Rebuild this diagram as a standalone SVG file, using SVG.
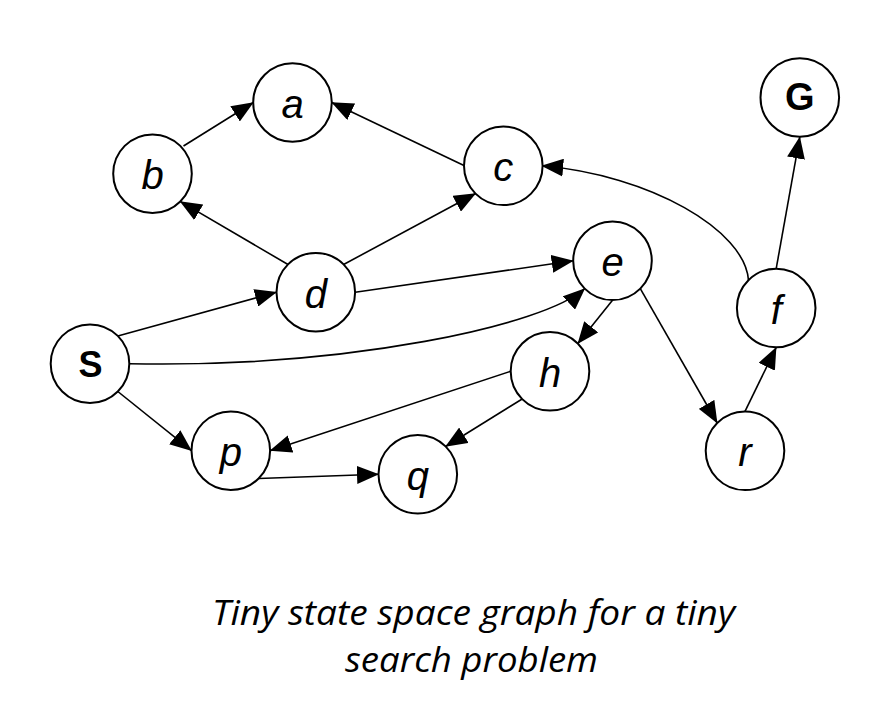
<svg xmlns="http://www.w3.org/2000/svg" width="880" height="707" viewBox="0 0 880 707">
<style>
.node circle{fill:#fff;stroke:#000;stroke-width:2}
.lbl{font-family:"Liberation Sans",Arial,sans-serif;font-style:italic;font-size:40px;text-anchor:middle;fill:#000}
.bold{font-family:"Liberation Sans",Arial,sans-serif;font-weight:bold;text-anchor:middle;fill:#000}
.edge{fill:none;stroke:#000;stroke-width:1.6;marker-end:url(#arr)}
.cap{font-family:"Open Sans","Noto Sans",sans-serif;font-style:italic;font-size:34px;text-anchor:middle;fill:#000}
</style>
<defs>
<marker id="arr" markerUnits="userSpaceOnUse" markerWidth="22" markerHeight="18" refX="21.5" refY="9" orient="auto">
<path d="M0,0 L22,9 L0,18 Z" fill="#000"/>
</marker>
</defs>
<rect width="880" height="707" fill="#fff"/>
<g id="connectors">
<path class="edge" d="M183.5,146 L253.3,102.5"/>
<path class="edge" d="M465,166 L331.8,102.5"/>
<path class="edge" d="M288,264.5 L180.2,201.4"/>
<path class="edge" d="M343.6,264.5 L475.6,193.5"/>
<path class="edge" d="M355.2,292.2 L573.2,260.8"/>
<path class="edge" d="M117.8,336 L276.5,292.2"/>
<path class="edge" d="M129.4,363.7 C350,368 545,325 584.8,288.5"/>
<path class="edge" d="M117.8,391.5 L191.5,450.7"/>
<path class="edge" d="M258.6,478.5 L378.5,474.2"/>
<path class="edge" d="M510.7,371.3 L270.1,450.7"/>
<path class="edge" d="M522.2,399 L445.6,446.5"/>
<path class="edge" d="M612.5,300.2 L577.8,343.6"/>
<path class="edge" d="M640.3,288.6 L717.2,423"/>
<path class="edge" d="M745,411.4 L776.2,347.4"/>
<path class="edge" d="M776.2,268.6 L799.8,136.9"/>
<path class="edge" d="M748.5,280.3 C745,230 650,175 541.7,165.8"/>
</g>
<g id="node-a" class="node"><circle cx="292.5" cy="102.5" r="39.3"/><text class="lbl" x="292.5" y="118">a</text></g>
<g id="node-b" class="node"><circle cx="152.5" cy="173.7" r="39.3"/><text class="lbl" x="152.5" y="189">b</text></g>
<g id="node-c" class="node"><circle cx="503.3" cy="165.8" r="39.3"/><text class="lbl" x="503.3" y="181.3">c</text></g>
<g id="node-d" class="node"><circle cx="315.8" cy="292.2" r="39.3"/><text class="lbl" x="315.8" y="307.7">d</text></g>
<g id="node-e" class="node"><circle cx="612.5" cy="260.8" r="39.3"/><text class="lbl" x="612.5" y="276.3">e</text></g>
<g id="node-f" class="node"><circle cx="776.2" cy="308" r="39.3"/><text class="lbl" x="776.2" y="323.5">f</text></g>
<g id="node-G" class="node"><circle cx="799.8" cy="97.5" r="39.3"/><text class="bold" x="799.8" y="110" font-size="38">G</text></g>
<g id="node-S" class="node"><circle cx="90" cy="363.7" r="39.3"/><text class="bold" x="90.5" y="377.3" font-size="36">S</text></g>
<g id="node-h" class="node"><circle cx="550" cy="371.3" r="39.3"/><text class="lbl" x="550" y="386.8">h</text></g>
<g id="node-p" class="node"><circle cx="230.8" cy="450.7" r="39.3"/><text class="lbl" x="230.8" y="466.2">p</text></g>
<g id="node-q" class="node"><circle cx="417.8" cy="474.2" r="39.3"/><text class="lbl" x="417.8" y="489.7">q</text></g>
<g id="node-r" class="node"><circle cx="745" cy="450.8" r="39.3"/><text class="lbl" x="745" y="466.3">r</text></g>
<text class="cap" x="473.5" y="625" textLength="523" lengthAdjust="spacingAndGlyphs">Tiny state space graph for a tiny</text>
<text class="cap" x="471.5" y="672" textLength="253" lengthAdjust="spacingAndGlyphs">search problem</text>
</svg>
